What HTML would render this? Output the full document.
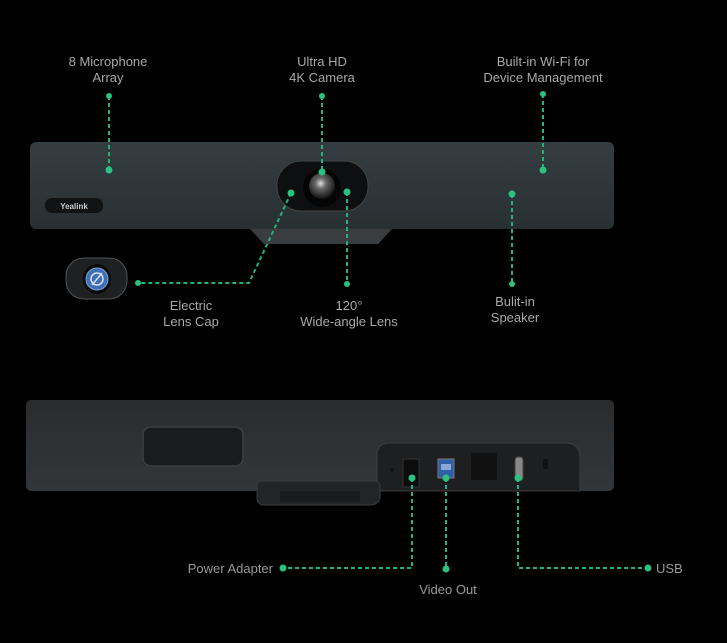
<!DOCTYPE html>
<html><head><meta charset="utf-8"><style>
html,body{margin:0;padding:0;background:#000;}
svg{display:block}
text{font-family:"Liberation Sans",sans-serif;font-size:13px;fill:#a9a9a9;}
</style></head><body>
<svg width="727" height="643" viewBox="0 0 727 643" xmlns="http://www.w3.org/2000/svg">
<defs>
<radialGradient id="lens" cx="0.45" cy="0.4" r="0.6"><stop offset="0" stop-color="#ddd"/><stop offset="0.35" stop-color="#666"/><stop offset="1" stop-color="#111"/></radialGradient>
<linearGradient id="bar" x1="0" y1="0" x2="0" y2="1"><stop offset="0" stop-color="#343d40"/><stop offset="1" stop-color="#283033"/></linearGradient>
<linearGradient id="back" x1="0" y1="0" x2="0" y2="1"><stop offset="0" stop-color="#2a2c2e"/><stop offset="1" stop-color="#333639"/></linearGradient>
</defs>
<!-- top device -->
<path d="M250 229 L392 229 L378 244 L264 244 Z" fill="#3a3d40"/>
<rect x="30" y="142" width="584" height="87" rx="6" fill="url(#bar)"/>
<rect x="45" y="198" width="58" height="15" rx="7" fill="#101314"/>
<text x="74" y="209" text-anchor="middle" style="font-size:8px;fill:#ccc;font-weight:bold">Yealink</text>
<rect x="277" y="161" width="91" height="50" rx="24" fill="#0d0f10" stroke="#444" stroke-width="1"/>
<circle cx="322" cy="188" r="19" fill="#050505"/>
<circle cx="322" cy="186" r="13" fill="url(#lens)"/>
<!-- lens cap image -->
<rect x="66" y="258" width="61" height="41" rx="18" fill="#1e2022" stroke="#555" stroke-width="1"/>
<ellipse cx="97" cy="279" rx="14" ry="15" fill="#0a0a0a"/>
<circle cx="97" cy="279" r="11" fill="#3b6fb6" stroke="#7aa2d6" stroke-width="1"/>
<circle cx="97" cy="279" r="6" fill="none" stroke="#dde" stroke-width="1.5"/>
<line x1="92" y1="285" x2="102" y2="273" stroke="#dde" stroke-width="1.5"/>
<!-- top connectors -->
<g stroke="#23b27a" stroke-width="2" stroke-dasharray="4 3" fill="none">
<line x1="109" y1="96" x2="109" y2="170"/>
<line x1="322" y1="96" x2="322" y2="172"/>
<line x1="543" y1="94" x2="543" y2="170"/>
<polyline points="291,193 249,283 138,283"/>
<line x1="347" y1="192" x2="347" y2="284"/>
<line x1="512" y1="194" x2="512" y2="284"/>
</g>
<g fill="#2bc281">
<circle cx="109" cy="96" r="3"/><circle cx="109" cy="170" r="3.5"/>
<circle cx="322" cy="96" r="3"/><circle cx="322" cy="172" r="3.5"/>
<circle cx="543" cy="94" r="3"/><circle cx="543" cy="170" r="3.5"/>
<circle cx="291" cy="193" r="3.5"/><circle cx="138" cy="283" r="3"/>
<circle cx="347" cy="192" r="3.5"/><circle cx="347" cy="284" r="3"/>
<circle cx="512" cy="194" r="3.5"/><circle cx="512" cy="284" r="3"/>
</g>
<g text-anchor="middle" style="fill:#b5b5b5">
<text x="108" y="66">8 Microphone</text><text x="108" y="82">Array</text>
<text x="322" y="66">Ultra HD</text><text x="322" y="82">4K Camera</text>
<text x="543" y="66">Built-in Wi-Fi for</text><text x="543" y="82">Device Management</text>
<text x="191" y="310">Electric</text><text x="191" y="326">Lens Cap</text>
<text x="349" y="310">120°</text><text x="349" y="326">Wide-angle Lens</text>
<text x="515" y="306">Bulit-in</text><text x="515" y="322">Speaker</text>
</g>
<!-- bottom device -->
<rect x="26" y="400" width="588" height="91" rx="5" fill="url(#back)"/>
<rect x="143" y="427" width="100" height="39" rx="8" fill="#1a1b1c" stroke="#3c3f42" stroke-width="1.5"/>
<path d="M377 491 L377 455 Q377 443 390 443 L565 443 Q580 443 580 458 L580 491 Z" fill="#1d1f21" stroke="#3a3c3e"/>
<path d="M257 491 L257 486 Q257 481 263 481 L374 481 Q380 481 380 487 L380 498 Q378 505 370 505 L265 505 Q257 505 257 498Z" fill="#222426" stroke="#3a3c3e"/>
<rect x="280" y="491" width="80" height="11" fill="#1a1b1c"/>
<circle cx="392" cy="470" r="1.5" fill="#111"/>
<rect x="403" y="459" width="16" height="28" fill="#0c0c0c" stroke="#333"/>
<rect x="438" y="459" width="16" height="19" fill="#2f5fa8" stroke="#777"/>
<rect x="441" y="464" width="10" height="6" fill="#8aa8d6"/>
<rect x="471" y="453" width="26" height="27" fill="#111"/>
<rect x="515" y="457" width="8" height="24" rx="3" fill="#888" stroke="#444"/>
<rect x="543" y="459" width="5" height="10" fill="#111"/>
<!-- bottom connectors -->
<g stroke="#23b28a" stroke-width="2" stroke-dasharray="4 3" fill="none">
<polyline points="412,478 412,568 283,568"/>
<line x1="446" y1="478" x2="446" y2="569"/>
<polyline points="518,478 518,568 648,568"/>
</g>
<g fill="#2bc281">
<circle cx="412" cy="478" r="3.5"/><circle cx="446" cy="478" r="3.5"/><circle cx="518" cy="478" r="3.5"/>
<circle cx="283" cy="568" r="3.5"/><circle cx="446" cy="569" r="3.5"/><circle cx="648" cy="568" r="3.5"/>
</g>
<text x="273" y="573" text-anchor="end" style="fill:#9a9a9a">Power Adapter</text>
<text x="448" y="594" text-anchor="middle" style="fill:#9a9a9a">Video Out</text>
<text x="656" y="573" style="fill:#9a9a9a">USB</text>
</svg>
</body></html>
